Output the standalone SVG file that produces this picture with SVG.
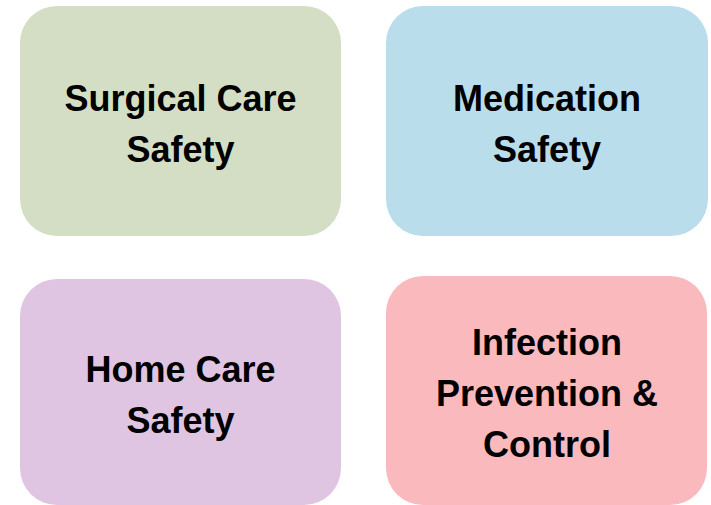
<svg xmlns="http://www.w3.org/2000/svg" width="711" height="505" viewBox="0 0 711 505">
<style>
.t{font-family:"Liberation Sans",Arial,sans-serif;font-weight:bold;font-size:36px;fill:#000;text-anchor:middle}
</style>
<rect width="711" height="505" fill="#ffffff"/>
<g id="surgical">
<rect x="20" y="6" width="321" height="230" rx="37" ry="37" fill="#D3DEC4"/>
<text class="t" x="180.5" y="111">Surgical Care</text>
<text class="t" x="180.5" y="162">Safety</text>
</g>
<g id="medication">
<rect x="386" y="6" width="322" height="230" rx="37" ry="37" fill="#B9DDEB"/>
<text class="t" x="547" y="111">Medication</text>
<text class="t" x="547" y="162">Safety</text>
</g>
<g id="homecare">
<rect x="20" y="279" width="321" height="226" rx="37" ry="37" fill="#DFC5E1"/>
<text class="t" x="180.5" y="382">Home Care</text>
<text class="t" x="180.5" y="433">Safety</text>
</g>
<g id="infection">
<rect x="386" y="276" width="321" height="229" rx="37" ry="37" fill="#F9B9BD"/>
<text class="t" x="547" y="355">Infection</text>
<text class="t" x="547" y="406">Prevention &amp;</text>
<text class="t" x="547" y="457">Control</text>
</g>
<g id="connectors"/>
</svg>
